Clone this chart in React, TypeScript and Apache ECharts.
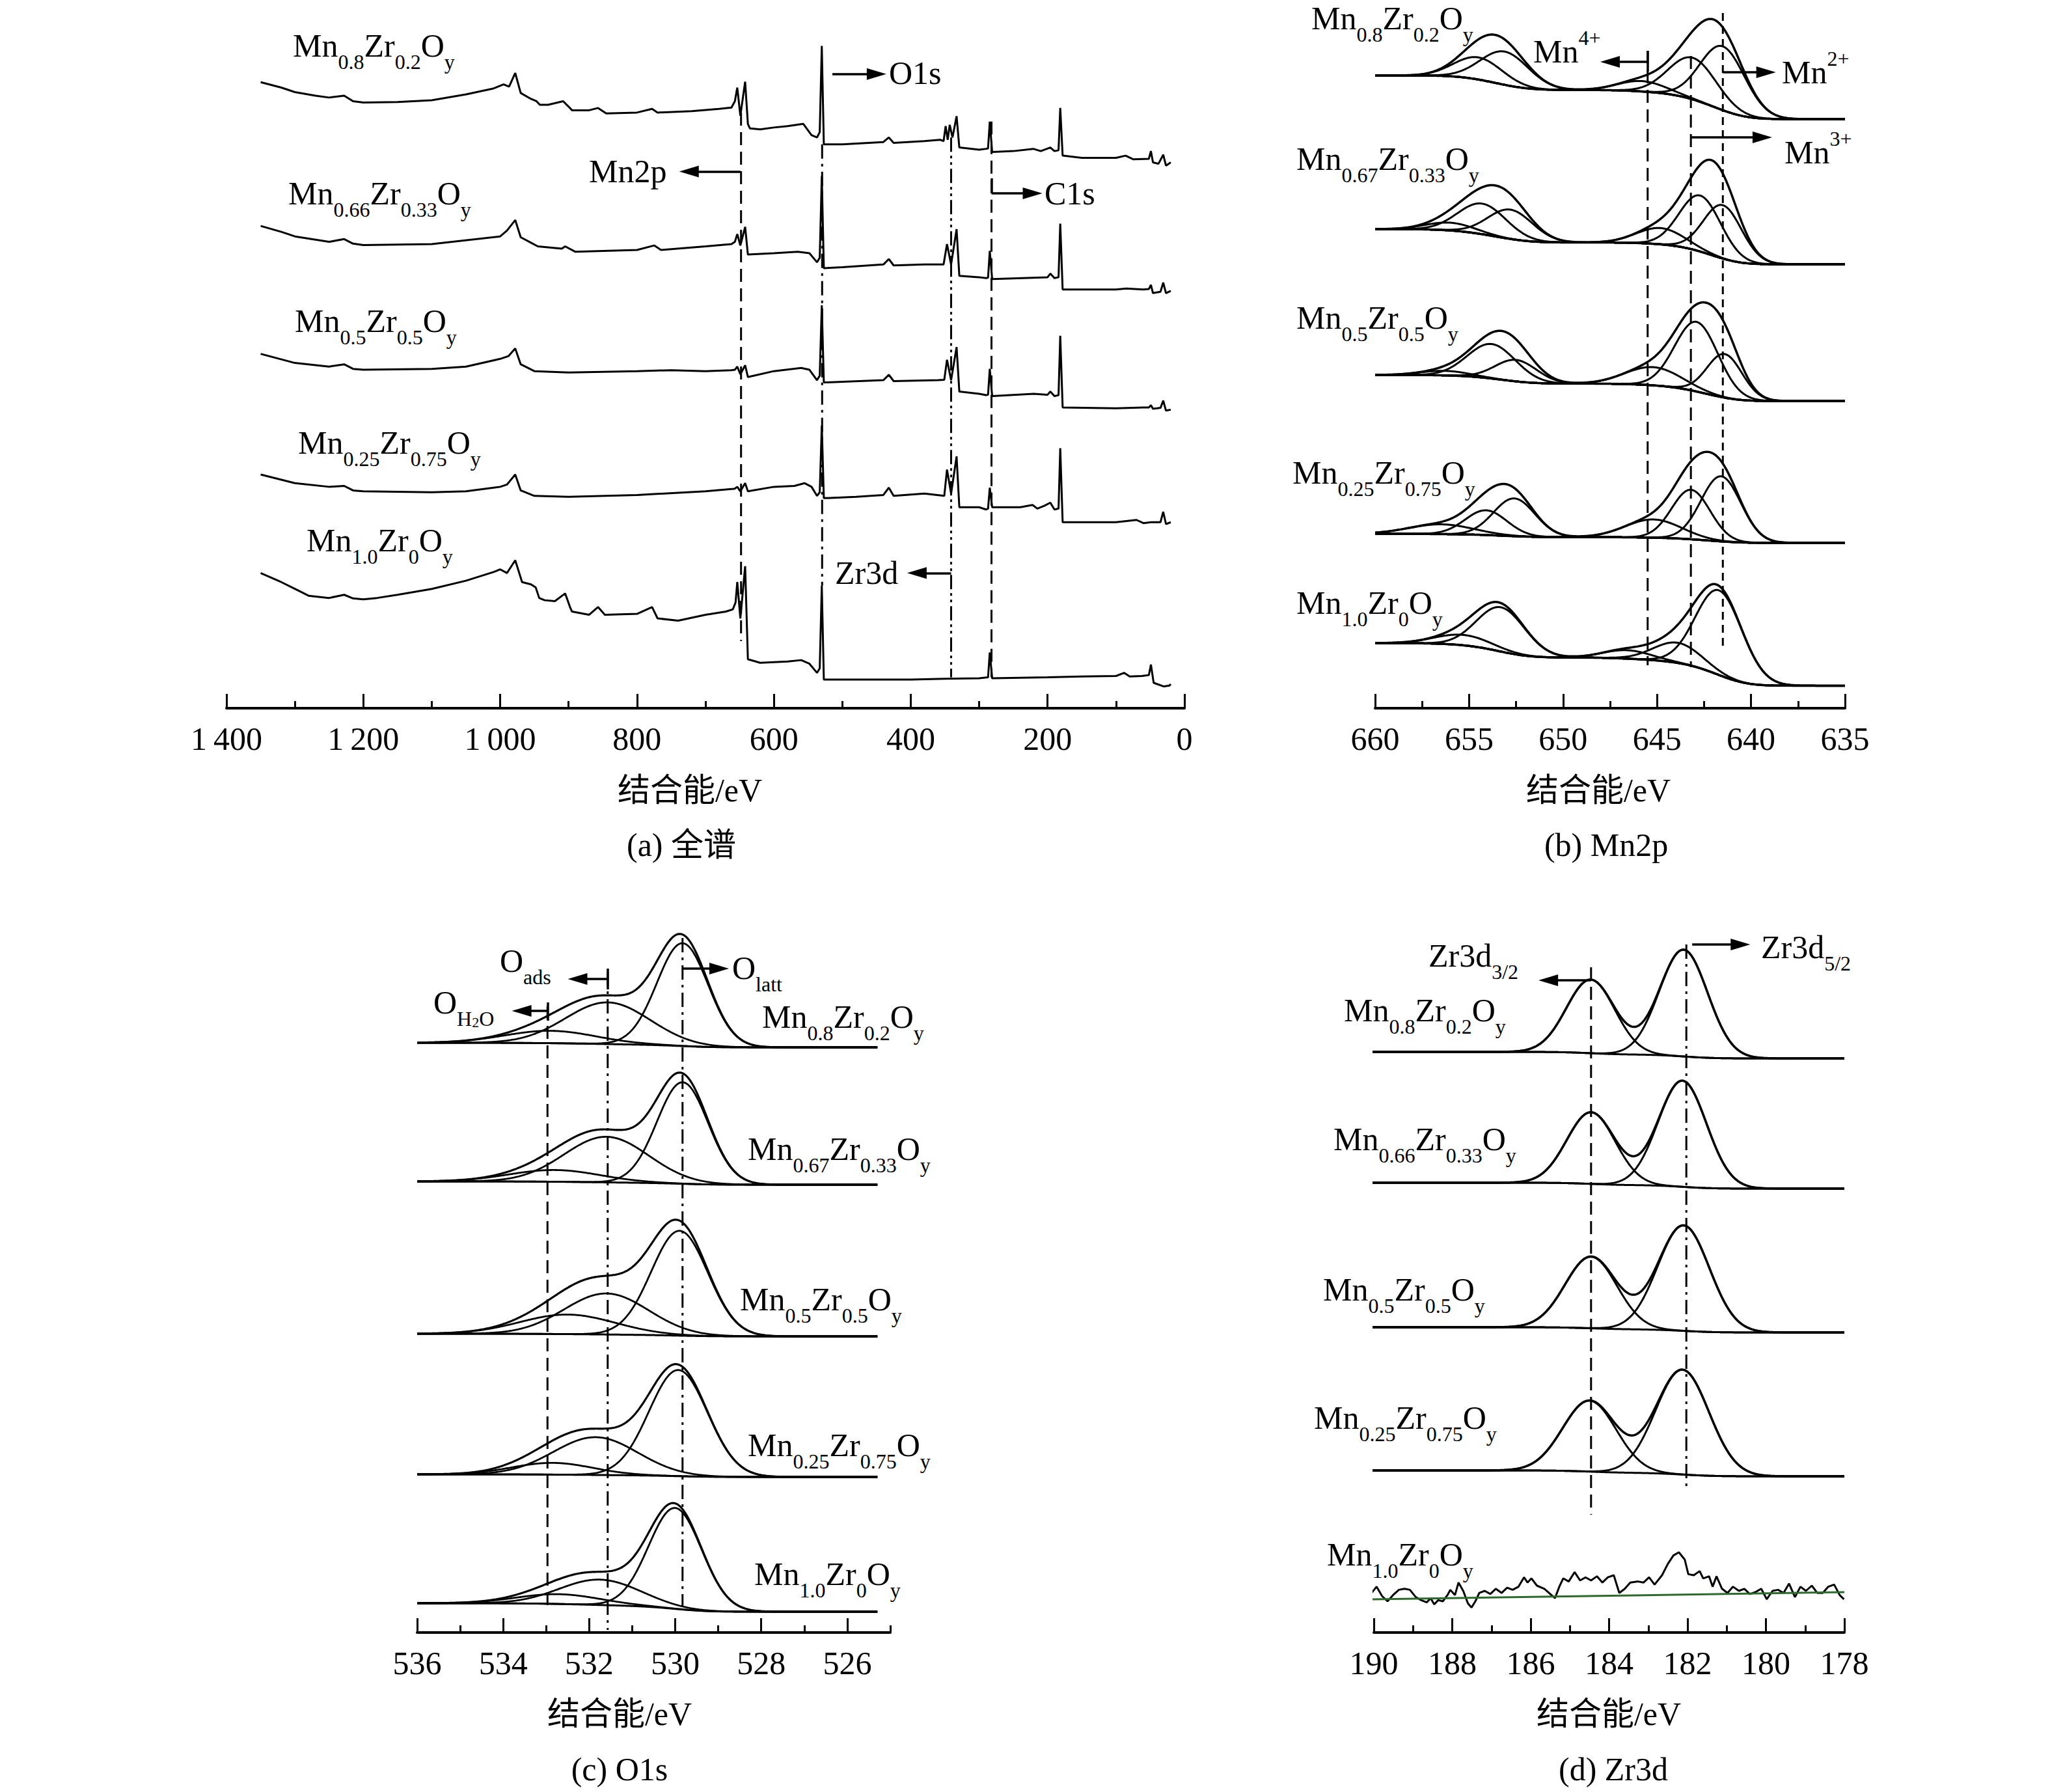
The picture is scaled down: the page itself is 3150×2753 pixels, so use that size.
import React, { useEffect, useRef } from "react";
import * as echarts from "echarts";

const SERIF = "'Liberation Serif', 'Times New Roman', serif";
const CJK = "'Liberation Serif', 'Noto Sans CJK SC', serif";

// ================= (a) survey spectra: [binding energy / eV, intensity / a.u.] =================
const surveyMn08Zr02 = [
  [1350, 1372], [1320, 1360], [1300, 1350], [1270, 1342], [1250, 1338], [1228, 1342], [1215, 1330], [1200, 1327],
  [1150, 1328], [1100, 1332], [1050, 1345], [1010, 1358], [995, 1367], [987, 1362], [978, 1392], [970, 1348],
  [955, 1335], [947, 1330], [942, 1322], [930, 1322], [908, 1330], [900, 1318], [895, 1310], [870, 1310],
  [857, 1315], [845, 1303], [800, 1305], [778, 1313], [770, 1305], [720, 1308], [680, 1313], [662, 1316],
  [657, 1330], [653.5, 1360], [649, 1298], [642, 1373], [638, 1280], [635, 1270], [620, 1268], [600, 1272],
  [580, 1275], [557, 1280], [545, 1255], [537, 1250], [533, 1262], [530, 1452], [527, 1235], [500, 1235],
  [440, 1240], [432, 1250], [425, 1238], [380, 1242], [357, 1245], [352, 1242], [349, 1275], [346, 1245],
  [343, 1278], [339, 1250], [333, 1297], [329, 1228], [300, 1223], [290, 1225], [287, 1226], [284.5, 1285],
  [281, 1218], [250, 1220], [221, 1225], [210, 1220], [196, 1228], [190, 1220], [184, 1222], [181.5, 1315],
  [178, 1210], [150, 1205], [100, 1205], [86, 1210], [75, 1202], [52, 1203], [49, 1220], [46, 1195],
  [38, 1192], [31, 1212], [27, 1188], [20, 1195],
];
const surveyMn066Zr033 = [
  [1350, 1055], [1320, 1042], [1300, 1032], [1250, 1020], [1228, 1026], [1215, 1016], [1200, 1013], [1100, 1015],
  [1000, 1032], [990, 1045], [978, 1068], [970, 1030], [955, 1018], [945, 1010], [910, 1005], [905, 1010],
  [890, 998], [800, 1002], [775, 1012], [765, 1002], [700, 1010], [662, 1015], [657, 1020], [653.5, 1037],
  [649, 1012], [642, 1053], [638, 992], [600, 995], [565, 998], [548, 995], [537, 975], [533, 985],
  [530, 1165], [527, 962], [500, 964], [440, 970], [432, 982], [425, 968], [380, 970], [352, 970],
  [347, 1015], [341, 970], [333, 1048], [329, 945], [300, 942], [290, 940], [287, 941], [284.5, 1000],
  [281, 938], [200, 942], [196, 950], [190, 940], [184, 942], [181.5, 1060], [178, 915], [100, 915],
  [85, 917], [60, 915], [52, 916], [49, 925], [46, 907], [35, 910], [31, 930], [27, 907], [20, 912],
];
const surveyMn05Zr05 = [
  [1350, 773], [1300, 753], [1250, 745], [1228, 750], [1215, 740], [1200, 738], [1100, 740], [1050, 745],
  [1000, 762], [988, 768], [978, 785], [970, 750], [950, 735], [900, 732], [800, 735], [750, 737],
  [700, 735], [662, 737], [657, 738], [653.5, 745], [649, 728], [642, 748], [638, 722], [600, 735],
  [560, 742], [548, 738], [537, 715], [533, 725], [530, 880], [527, 710], [440, 715], [432, 727],
  [425, 713], [360, 715], [351, 716], [347, 760], [341, 715], [333, 788], [329, 690], [300, 685],
  [290, 682], [287, 683], [284.5, 740], [281, 680], [220, 685], [200, 683], [196, 690], [190, 680],
  [184, 682], [181.5, 813], [178, 655], [100, 653], [60, 655], [52, 655], [49, 660], [46, 652],
  [35, 654], [31, 670], [27, 648], [20, 650],
];
const surveyMn025Zr075 = [
  [1350, 507], [1300, 488], [1250, 480], [1228, 482], [1215, 472], [1200, 470], [1100, 468], [1050, 470],
  [1000, 480], [990, 485], [978, 507], [970, 472], [950, 460], [900, 458], [800, 462], [700, 470],
  [662, 475], [657, 476], [653.5, 480], [649, 470], [642, 488], [638, 470], [600, 480], [570, 482],
  [555, 488], [545, 480], [537, 460], [533, 468], [530, 615], [527, 455], [480, 458], [440, 462],
  [432, 478], [425, 460], [380, 465], [351, 460], [347, 518], [341, 465], [333, 547], [329, 435],
  [300, 435], [290, 430], [287, 432], [284.5, 478], [281, 435], [240, 435], [222, 440], [215, 432],
  [205, 438], [196, 445], [190, 430], [184, 432], [181.5, 565], [178, 402], [100, 402], [70, 407],
  [60, 400], [49, 402], [35, 402], [31, 425], [27, 398], [20, 402],
];
const surveyMn10Zr0 = [
  [1350, 290], [1320, 270], [1300, 255], [1280, 240], [1250, 235], [1228, 242], [1215, 234], [1200, 232],
  [1180, 235], [1150, 242], [1100, 255], [1050, 273], [1010, 292], [1000, 298], [990, 290], [978, 318],
  [968, 270], [955, 265], [948, 258], [943, 235], [935, 230], [920, 228], [905, 245], [898, 215],
  [895, 205], [870, 198], [857, 215], [847, 198], [800, 200], [778, 215], [770, 190], [740, 185],
  [700, 198], [670, 205], [660, 210], [656, 225], [653.5, 270], [649, 190], [642, 305], [638, 100],
  [620, 92], [580, 95], [560, 98], [548, 90], [537, 70], [533, 80], [530, 262], [527, 55],
  [400, 55], [350, 57], [300, 58], [287, 60], [284.5, 115], [281, 58], [200, 60], [150, 62],
  [100, 63], [88, 70], [80, 62], [62, 63], [52, 65], [49, 88], [45, 48], [30, 40], [22, 42], [20, 45],
];
// guide lines (a): [eV, top, bottom]
const surveyGuideMn2p = [648, 1305, 140];
const surveyGuideO1s = [529.5, 1235, 262];
const surveyGuideZr3d = [341, 1250, 60];
const surveyGuideC1s = [282, 1285, 60];
// arrows (a): [from eV, to eV, level]
const surveyArrows = [[514.5, 450, 1390], [648.7, 724, 1175], [282, 222, 1127], [341, 391, 290]];
const surveyBars = [[282, 1160, 1127]];

// ================= (b) Mn2p fits =================
// background end levels [at 660 eV, at 635 eV]
const mn2pBackground = [[974, 907], [738, 684], [514, 474], [270, 256], [102, 36.6]];
// peaks: [centre eV, height, FWHM eV]
const mn2pPeaksMn08Zr02 = [[643.1, 64, 3.0], [641.5, 98, 2.8], [645.8, 16, 3.0], [654.5, 34, 3.0], [653.1, 51, 3.0]];
const mn2pPeaksMn067Zr033 = [[642.7, 86, 2.6], [641.5, 82, 2.4], [644.8, 25, 3.0], [654.3, 47, 3.0], [652.8, 45, 2.8], [656.0, 12, 3.0]];
const mn2pPeaksMn05Zr05 = [[642.9, 107, 2.7], [641.4, 67, 2.2], [645.2, 28, 3.5], [653.8, 53, 3.0], [652.5, 33, 2.6], [656.3, 7, 3.0]];
const mn2pPeaksMn025Zr075 = [[643.2, 76, 2.4], [641.6, 100, 2.5], [645.2, 28, 3.5], [654.1, 38, 2.6], [652.6, 58, 2.6], [656.5, 15, 4.0]];
const mn2pPeaksMn10Zr0 = [[641.7, 130, 2.9], [643.9, 31, 3.0], [646.6, 13, 3.0], [653.3, 68, 3.0], [655.3, 16, 3.5]];
const mn2pGuides = [[645.5, 1012, 68], [643.2, 1004, 65], [641.5, 1070, 93]];
const mn2pArrows = [[645.5, 647.5, 995], [641.5, 639.2, 979], [643.2, 639.4, 879]];
const mn2pBars = [[645.5, 1012, 980]];

// ================= (c) O1s fits =================
const o1sBackground = [[906, 899], [693, 688], [459, 455], [243, 239], [45, 32]];
const o1sPeaksMn08Zr02 = [[529.83, 158, 1.4], [531.57, 64, 2.3], [532.9, 19, 2.5]];
const o1sPeaksMn067Zr033 = [[529.83, 156, 1.4], [531.6, 70, 2.3], [532.8, 18, 2.5]];
const o1sPeaksMn05Zr05 = [[529.9, 161, 1.55], [531.6, 63, 2.3], [532.5, 30, 2.6]];
const o1sPeaksMn025Zr075 = [[529.93, 163, 1.6], [531.85, 58, 2.3], [532.85, 18, 2.2]];
const o1sPeaksMn10Zr0 = [[530.0, 155, 1.45], [531.75, 39, 2.2], [532.7, 15, 2.3]];
const o1sGuides = [[529.83, 1067, 39], [531.57, 1015, 4], [532.97, 962, 39]];
const o1sArrows = [[529.83, 528.98, 1020], [531.57, 532.27, 1004], [532.97, 533.57, 955]];
const o1sBars = [[531.57, 1020, 988], [532.97, 968, 940]];

// ================= (d) Zr3d fits =================
const zr3dBackground = [[892, 882], [691, 682], [469, 461], [249, 240]];
const zr3dPeaksMn08Zr02 = [[182.1, 164, 1.45], [184.47, 113, 1.45]];
const zr3dPeaksMn066Zr033 = [[182.13, 163, 1.45], [184.46, 110, 1.45]];
const zr3dPeaksMn05Zr05 = [[182.1, 162, 1.55], [184.46, 110, 1.55]];
const zr3dPeaksMn025Zr075 = [[182.13, 161, 1.6], [184.5, 109, 1.6]];
const zr3dMn10Zr0Raw = [
  [190.08, 59.2], [189.93, 70.4], [189.79, 56], [189.65, 48], [189.51, 57.6], [189.36, 65.6], [189.22, 67.2],
  [189.08, 65.6], [188.93, 54.4], [188.79, 49.6], [188.65, 46.4], [188.55, 52.8], [188.46, 43.2], [188.36, 49.6],
  [188.24, 48], [188.12, 57.6], [188.05, 65.6], [187.93, 57.6], [187.84, 76.8], [187.72, 64], [187.6, 44.8],
  [187.51, 38.4], [187.41, 48], [187.31, 60.8], [187.17, 64], [187.03, 59.2], [186.89, 67.2], [186.74, 60.8],
  [186.6, 68.8], [186.46, 65.6], [186.31, 70.4], [186.17, 84.8], [186.08, 76.8], [185.98, 83.2], [185.84, 72],
  [185.65, 67.2], [185.5, 59.2], [185.38, 52.8], [185.27, 70.4], [185.17, 83.2], [185.03, 78.4], [184.88, 92.8],
  [184.74, 80], [184.6, 84.8], [184.46, 80], [184.31, 86.4], [184.17, 76.8], [184.03, 84.8], [183.88, 88],
  [183.74, 60.8], [183.6, 67.2], [183.46, 76.8], [183.26, 78.4], [183.12, 76.8], [182.98, 84.8], [182.84, 73.6],
  [182.65, 88], [182.5, 105.6], [182.36, 118.4], [182.22, 123.2], [182.07, 112], [181.98, 89.6], [181.84, 88],
  [181.69, 94.4], [181.6, 83.2], [181.45, 86.4], [181.36, 70.4], [181.26, 86.4], [181.12, 67.2], [180.98, 60.8],
  [180.84, 70.4], [180.69, 64], [180.55, 67.2], [180.41, 59.2], [180.26, 62.4], [180.12, 67.2], [179.98, 51.2],
  [179.83, 64], [179.69, 65.6], [179.55, 60.8], [179.41, 75.2], [179.26, 54.4], [179.12, 70.4], [178.98, 64],
  [178.83, 72], [178.69, 60.8], [178.55, 60.8], [178.41, 70.4], [178.26, 73.6], [178.12, 57.6], [178.01, 51.2],
];
const zr3dMn10Zr0Baseline = [[190.1, 51], [178.0, 62]];
const zr3dGuides = [[184.46, 1022, 181], [182.03, 1057, 219]];
const zr3dArrows = [[184.46, 185.55, 1002], [181.88, 180.65, 1057]];

// ================= labels =================
const labelsA = [
  [["Mn", "0.8"], ["Zr", "0.2"], ["O", "y"]],
  [["Mn", "0.66"], ["Zr", "0.33"], ["O", "y"]],
  [["Mn", "0.5"], ["Zr", "0.5"], ["O", "y"]],
  [["Mn", "0.25"], ["Zr", "0.75"], ["O", "y"]],
  [["Mn", "1.0"], ["Zr", "0"], ["O", "y"]],
];
const labelsBC = [
  [["Mn", "0.8"], ["Zr", "0.2"], ["O", "y"]],
  [["Mn", "0.67"], ["Zr", "0.33"], ["O", "y"]],
  [["Mn", "0.5"], ["Zr", "0.5"], ["O", "y"]],
  [["Mn", "0.25"], ["Zr", "0.75"], ["O", "y"]],
  [["Mn", "1.0"], ["Zr", "0"], ["O", "y"]],
];
const labelsD = labelsA;

// layout (pixel positions of text)
const posA = [[450, 70], [443, 297], [453, 493], [458, 680], [471, 830]];
const posB = [[2015, 28], [1992, 244], [1992, 488], [1986, 726], [1992, 926]];
const posC = [[1171, 1562], [1149, 1765], [1137, 1996], [1149, 2220], [1159, 2418]];
const posD = [[2065, 1552], [2049, 1750], [2033, 1981], [2019, 2178], [2039, 2388]];

// ================= helpers =================
const LN2 = Math.log(2);
function erf(x: number) {
  const s = Math.sign(x);
  const a = Math.abs(x);
  const t = 1 / (1 + 0.3275911 * a);
  const y = 1 - (((((1.061405429 * t - 1.453152027) * t) + 1.421413741) * t - 0.284496736) * t + 0.254829592) * t * Math.exp(-a * a);
  return s * y;
}
const gauss = (x: number, p: number[]) => p[1] * Math.exp((-4 * LN2 * (x - p[0]) * (x - p[0])) / (p[2] * p[2]));
const cdf = (x: number, p: number[]) => {
  const sig = p[2] / (2 * Math.sqrt(2 * LN2));
  return 0.5 * (1 + erf((x - p[0]) / (sig * Math.SQRT2)));
};
function energyGrid(from: number, to: number, step: number) {
  const n = Math.round(Math.abs(to - from) / step);
  const out: number[] = [];
  for (let i = 0; i <= n; i++) out.push(from + ((to - from) * i) / n);
  return out;
}
function buildFit(peaks: number[][], bgEnds: number[], xs: number[]) {
  const areas = peaks.map((p) => p[1] * p[2]);
  const total = areas.reduce((a, b) => a + b, 0);
  const bg = xs.map((x) => bgEnds[1] + (bgEnds[0] - bgEnds[1]) * peaks.reduce((a, p, i) => a + areas[i] * cdf(x, p), 0) / total);
  const comps = peaks.map((p) => xs.map((x, i) => [x, bg[i] + gauss(x, p)]));
  const env = xs.map((x, i) => [x, bg[i] + peaks.reduce((a, p) => a + gauss(x, p), 0)]);
  return { bg: xs.map((x, i) => [x, bg[i]]), comps, env };
}

const BLACK = "#000";
const DASH = [20, 10];
const DASHDOT = [22, 8, 4, 8];
const DASHDOTDOT = [22, 6, 4, 6, 4, 6];
const SHORTDASH = [12, 8];

function lineS(data: any, idx: number, width: number, color = BLACK, type: any = "solid", z = 2) {
  return {
    type: "line", xAxisIndex: idx, yAxisIndex: idx, data, symbol: "none", showSymbol: false,
    silent: true, animation: false, z, lineStyle: { color, width, type }, emphasis: { disabled: true },
  };
}
function arrowMark(arrows: number[][], bars: number[][]) {
  return {
    silent: true, animation: false, symbol: ["none", "none"], label: { show: false }, emphasis: { disabled: true },
    lineStyle: { color: BLACK, width: 3.5, type: "solid" },
    data: [
      ...arrows.map(([x1, x2, y]) => [
        { coord: [x1, y], symbol: "none" },
        { coord: [x2, y], symbol: "triangle", symbolSize: [18, 30] },
      ]),
      ...bars.map(([x, y1, y2]) => [
        { coord: [x, y1], symbol: "none" },
        { coord: [x, y2], symbol: "none" },
      ]),
    ],
  };
}

const richSub = {
  m: { fontSize: 50, fontFamily: SERIF, verticalAlign: "top", fill: BLACK },
  s: { fontSize: 32, fontFamily: SERIF, verticalAlign: "bottom", padding: [34, 0, 0, 0], fill: BLACK },
  ss: { fontSize: 22, fontFamily: SERIF, verticalAlign: "bottom", padding: [44, 0, 0, 0], fill: BLACK },
};
function subText(text: string, x: number, y: number) {
  return { type: "text", x, y: y + 8, silent: true, z: 10, style: { text, rich: richSub, align: "left", verticalAlign: "middle", fill: BLACK } };
}
function tokensText(tokens: string[][]) {
  return tokens.map(([m, s]) => `{m|${m}}` + (s ? `{s|${s}}` : "")).join("");
}
function supText(main: string, sup: string, x: number, y: number) {
  return {
    type: "text", x, y: y - 6, silent: true, z: 10,
    style: {
      text: `{M|${main}}{p|${sup}}`, align: "left", verticalAlign: "middle", fill: BLACK,
      rich: {
        M: { fontSize: 50, fontFamily: SERIF, verticalAlign: "bottom", fill: BLACK },
        p: { fontSize: 32, fontFamily: SERIF, verticalAlign: "top", padding: [0, 0, 30, 0], fill: BLACK },
      },
    },
  };
}
function plainText(text: string, x: number, y: number, align = "left", family = SERIF) {
  return { type: "text", x, y, silent: true, z: 10, style: { text, fontSize: 50, fontFamily: family, fill: BLACK, align, verticalAlign: "middle" } };
}

function buildOption() {
  const series: any[] = [];

  // ---- (a)
  [surveyMn08Zr02, surveyMn066Zr033, surveyMn05Zr05, surveyMn025Zr075, surveyMn10Zr0].forEach((d) => series.push(lineS(d, 0, 3)));
  const gA = [[surveyGuideMn2p, DASH], [surveyGuideO1s, DASHDOT], [surveyGuideZr3d, DASHDOTDOT], [surveyGuideC1s, DASH]];
  gA.forEach(([g, t]: any, i) => {
    const s: any = lineS([[g[0], g[1]], [g[0], g[2]]], 0, 3, BLACK, t, 1);
    if (i === 0) s.markLine = arrowMark(surveyArrows, surveyBars);
    series.push(s);
  });

  // ---- (b)
  const xsB = energyGrid(660, 635, 0.05);
  [mn2pPeaksMn08Zr02, mn2pPeaksMn067Zr033, mn2pPeaksMn05Zr05, mn2pPeaksMn025Zr075, mn2pPeaksMn10Zr0].forEach((pk, i) => {
    const f = buildFit(pk, mn2pBackground[i], xsB);
    series.push(lineS(f.bg, 1, 3.5));
    f.comps.forEach((c) => series.push(lineS(c, 1, 3)));
    series.push(lineS(f.env, 1, 3.5));
  });
  const dashB = [DASH, DASH, SHORTDASH];
  mn2pGuides.forEach((g, i) => {
    const s: any = lineS([[g[0], g[1]], [g[0], g[2]]], 1, 3, BLACK, dashB[i], 1);
    if (i === 0) s.markLine = arrowMark(mn2pArrows, mn2pBars);
    series.push(s);
  });

  // ---- (c)
  const xsC = energyGrid(536, 525.3, 0.02);
  [o1sPeaksMn08Zr02, o1sPeaksMn067Zr033, o1sPeaksMn05Zr05, o1sPeaksMn025Zr075, o1sPeaksMn10Zr0].forEach((pk, i) => {
    const f = buildFit(pk, o1sBackground[i], xsC);
    series.push(lineS(f.bg, 2, 3));
    f.comps.forEach((c) => series.push(lineS(c, 2, 2.8)));
    series.push(lineS(f.env, 2, 3.2));
  });
  const dashC = [DASHDOT, DASHDOT, DASH];
  o1sGuides.forEach((g, i) => {
    const s: any = lineS([[g[0], g[1]], [g[0], g[2]]], 2, 3, BLACK, dashC[i], 1);
    if (i === 0) s.markLine = arrowMark(o1sArrows, o1sBars);
    series.push(s);
  });

  // ---- (d)
  const xsD = energyGrid(190.1, 178, 0.02);
  [zr3dPeaksMn08Zr02, zr3dPeaksMn066Zr033, zr3dPeaksMn05Zr05, zr3dPeaksMn025Zr075].forEach((pk, i) => {
    const f = buildFit(pk, zr3dBackground[i], xsD);
    series.push(lineS(f.bg, 3, 3));
    f.comps.forEach((c) => series.push(lineS(c, 3, 3)));
    series.push(lineS(f.env, 3, 3.5));
  });
  series.push(lineS(zr3dMn10Zr0Raw, 3, 3));
  series.push(lineS(zr3dMn10Zr0Baseline, 3, 3, "#2c6a2c", "solid", 3));
  const dashD = [DASH, DASHDOT];
  zr3dGuides.forEach((g, i) => {
    const s: any = lineS([[g[0], g[1]], [g[0], g[2]]], 3, 3, BLACK, dashD[i], 1);
    if (i === 0) s.markLine = arrowMark(zr3dArrows, []);
    series.push(s);
  });

  const axisBase = (gridIndex: number, min: number, max: number) => ({
    gridIndex, type: "value", min, max, inverse: true, position: "bottom",
    axisLine: { show: true, onZero: false, lineStyle: { color: BLACK, width: 4 } },
    axisTick: { show: true, inside: true, length: 22, lineStyle: { color: BLACK, width: 3 } },
    axisLabel: { show: true, color: BLACK, fontSize: 50, fontFamily: SERIF, margin: 22 },
    splitLine: { show: false },
  });
  const minor = { show: true, splitNumber: 2, length: 11, lineStyle: { color: BLACK, width: 3 } };
  const ax0: any = axisBase(0, 0, 1400);
  ax0.interval = 200;
  ax0.minorTick = minor;
  ax0.axisLabel.formatter = (v: number) => (v >= 1000 ? `${Math.floor(v / 1000)}\u2009${String(v % 1000).padStart(3, "0")}` : String(v));
  const ax1: any = axisBase(1, 635, 660);
  ax1.interval = 5;
  ax1.minorTick = minor;
  const ax2: any = axisBase(2, 525, 536);
  ax2.axisTick.customValues = [526, 528, 530, 532, 534, 536];
  ax2.axisLabel.customValues = [526, 528, 530, 532, 534, 536];
  const ax3: any = axisBase(3, 178, 190);
  ax3.interval = 2;
  ax3.minorTick = minor;
  const ax4: any = axisBase(2, 525, 536);
  ax4.axisLine = { show: false, onZero: false };
  ax4.axisTick = { show: true, inside: true, length: 11, lineStyle: { color: BLACK, width: 3 }, customValues: [525, 527, 529, 531, 533, 535] };
  ax4.axisLabel = { show: false };

  const graphic: any[] = [];
  labelsA.forEach((t, i) => graphic.push(subText(tokensText(t), posA[i][0], posA[i][1])));
  labelsBC.forEach((t, i) => graphic.push(subText(tokensText(t), posB[i][0], posB[i][1])));
  labelsBC.forEach((t, i) => graphic.push(subText(tokensText(t), posC[i][0], posC[i][1])));
  labelsD.forEach((t, i) => graphic.push(subText(tokensText(t), posD[i][0], posD[i][1])));
  graphic.push(plainText("O1s", 1366, 112));
  graphic.push(plainText("Mn2p", 905, 263));
  graphic.push(plainText("C1s", 1605, 297));
  graphic.push(plainText("Zr3d", 1283, 880));
  graphic.push(supText("Mn", "4+", 2356, 79));
  graphic.push(supText("Mn", "2+", 2738, 111));
  graphic.push(supText("Mn", "3+", 2742, 234));
  graphic.push(subText("{m|O}{s|latt}", 1125, 1487));
  graphic.push(subText("{m|O}{s|ads}", 768, 1476));
  graphic.push(subText("{m|O}{s|H}{ss|2}{s|O}", 666, 1540));
  graphic.push(subText("{m|Zr3d}{s|3/2}", 2195, 1468));
  graphic.push(subText("{m|Zr3d}{s|5/2}", 2706, 1455));
  graphic.push(plainText("结合能/eV", 1060, 1214, "center", CJK));
  graphic.push(plainText("(a) 全谱", 1047, 1298, "center", CJK));
  graphic.push(plainText("结合能/eV", 2456, 1214, "center", CJK));
  graphic.push(plainText("(b) Mn2p", 2468, 1298, "center", CJK));
  graphic.push(plainText("结合能/eV", 952, 2633, "center", CJK));
  graphic.push(plainText("(c) O1s", 952, 2718, "center", CJK));
  graphic.push(plainText("结合能/eV", 2472, 2633, "center", CJK));
  graphic.push(plainText("(d) Zr3d", 2479, 2718, "center", CJK));

  return {
    animation: false,
    backgroundColor: "#fff",
    grid: [
      { left: 348, width: 1472, top: 30, height: 1058 },
      { left: 2113, width: 722, top: 0, height: 1088 },
      { left: 641, width: 727, top: 1400, height: 1108 },
      { left: 2111, width: 723, top: 1400, height: 1108 },
    ],
    xAxis: [ax0, ax1, ax2, ax3, ax4],
    yAxis: [
      { gridIndex: 0, type: "value", min: -8, max: 1510, show: false },
      { gridIndex: 1, type: "value", min: 2, max: 1090, show: false },
      { gridIndex: 2, type: "value", min: 0, max: 1108, show: false },
      { gridIndex: 3, type: "value", min: 0, max: 1108, show: false },
    ],
    series,
    graphic,
  };
}

export default function App() {
  const ref = useRef<HTMLDivElement>(null);
  useEffect(() => {
    document.body.style.margin = "0";
    const chart = echarts.init(ref.current!, null, { renderer: "svg" });
    chart.setOption(buildOption() as any);
    return () => chart.dispose();
  }, []);
  return <div ref={ref} style={{ width: 3150, height: 2753 }} />;
}
